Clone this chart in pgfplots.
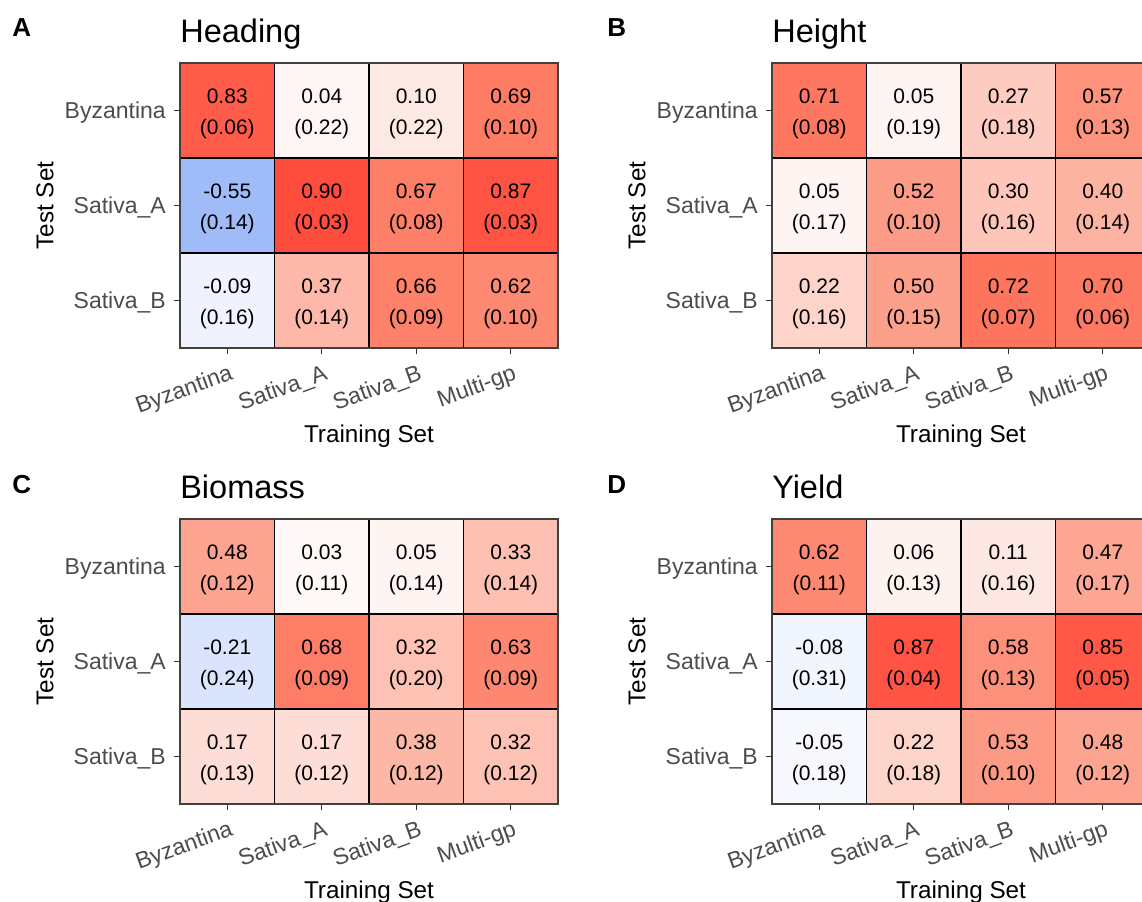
\documentclass[border=0pt]{standalone}
\usepackage{fontspec}
\setmainfont{Liberation Sans}
\usepackage{pgfplots}
\usepackage{pgfplotstable}
\pgfplotsset{compat=1.18}

\newcommand\cellfont{\fontsize{15.75}{23.25}\selectfont}
\newcommand\tickfont{\fontsize{17.25}{20}\selectfont}
\newcommand\labfont{\fontsize{18.2}{22}\selectfont}
\newcommand\titlefont{\fontsize{24.4}{28}\selectfont}
\newcommand\letfont{\fontsize{19.5}{22}\selectfont\bfseries}

% x = training set (0 Byzantina,1 Sativa_A,2 Sativa_B,3 Multi-gp)
% y = test set (2 Byzantina,1 Sativa_A,0 Sativa_B)
\pgfplotstableread{
x y v sd
0 0 -0.09 0.16
1 0 0.37 0.14
2 0 0.66 0.09
3 0 0.62 0.10
0 1 -0.55 0.14
1 1 0.90 0.03
2 1 0.67 0.08
3 1 0.87 0.03
0 2 0.83 0.06
1 2 0.04 0.22
2 2 0.10 0.22
3 2 0.69 0.10
}\heading
\pgfplotstableread{
x y v sd
0 0 0.22 0.16
1 0 0.50 0.15
2 0 0.72 0.07
3 0 0.70 0.06
0 1 0.05 0.17
1 1 0.52 0.10
2 1 0.30 0.16
3 1 0.40 0.14
0 2 0.71 0.08
1 2 0.05 0.19
2 2 0.27 0.18
3 2 0.57 0.13
}\height
\pgfplotstableread{
x y v sd
0 0 0.17 0.13
1 0 0.17 0.12
2 0 0.38 0.12
3 0 0.32 0.12
0 1 -0.21 0.24
1 1 0.68 0.09
2 1 0.32 0.20
3 1 0.63 0.09
0 2 0.48 0.12
1 2 0.03 0.11
2 2 0.05 0.14
3 2 0.33 0.14
}\biomass
\pgfplotstableread{
x y v sd
0 0 -0.05 0.18
1 0 0.22 0.18
2 0 0.53 0.10
3 0 0.48 0.12
0 1 -0.08 0.31
1 1 0.87 0.04
2 1 0.58 0.13
3 1 0.85 0.05
0 2 0.62 0.11
1 2 0.06 0.13
2 2 0.11 0.16
3 2 0.47 0.17
}\yield

\pgfplotsset{
  hm/.style={
    scale only axis, width=283.5pt, height=213.75pt,
    anchor=south west,
    xmin=-0.5, xmax=3.5, ymin=-0.5, ymax=2.5,
    axis on top,
    colormap={rb}{rgb255(0pt)=(80,130,240); rgb255(45pt)=(160,188,248); rgb255(80pt)=(221,229,253);
      rgb255(100pt)=(255,255,255); rgb255(110pt)=(253,233,228); rgb255(125pt)=(253,207,196);
      rgb255(150pt)=(252,160,140); rgb255(170pt)=(254,121,98); rgb255(190pt)=(255,77,61); rgb255(200pt)=(255,55,40)},
    point meta min=-1, point meta max=1,
    xtick={0,1,2,3}, ytick={0,1,2},
    xticklabels={Byzantina,Sativa\_A,Sativa\_B,Multi-gp},
    yticklabels={Sativa\_B,Sativa\_A,Byzantina},
    tick align=outside, tick pos=left,
    major tick length=4.5pt,
    every tick/.style={black!80, line width=1.1pt},
    minor xtick={0.5,1.5,2.5}, minor ytick={0.5,1.5},
    minor tick length=0pt,
    xminorgrids=true, yminorgrids=true,
    minor grid style={black, line width=0.9pt},
    axis line style={black!75, line width=1.1pt},
    xticklabel style={font=\tickfont, text=black!70, rotate=20, anchor=north east, inner sep=0pt, yshift=-6.75pt, xshift=-1.5pt},
    yticklabel style={font=\tickfont, text=black!70, anchor=base east, inner sep=0pt, xshift=-6pt, yshift=-6.2pt},
    xlabel={Training Set}, ylabel={Test Set},
    xlabel style={font=\labfont, at={(axis description cs:0.5,-0.3333)}, anchor=base, inner sep=0pt},
    ylabel style={font=\labfont, at={(axis description cs:-0.3571,0.5)}, anchor=center, inner sep=0pt},
    every axis title shift=0pt,
    title style={font=\titlefont, at={(axis description cs:0,1)}, anchor=base west, inner sep=0pt, yshift=15pt},
  },
  cells/.style={matrix plot*, mesh/cols=4, point meta=explicit},
  txt/.style={only marks, mark=*, mark size=0pt,
    scatter/use mapped color={draw=none, fill=none},
    point meta=explicit symbolic,
    nodes near coords align=center,
    every node near coord/.append style={anchor=base, inner sep=0pt, font=\cellfont, text=black, yshift=#1}},
  txtv/.style={txt=5.25pt, nodes near coords={\pgfplotspointmeta}},
  txts/.style={txt=-18pt, nodes near coords={(\pgfplotspointmeta)}},
}

\begin{document}
\begin{tikzpicture}
\path[use as bounding box] (0,0) rectangle (856.5pt,676.5pt);

\begin{axis}[hm, at={(135pt,415.5pt)}, title={Heading}]
\addplot[cells] table[x=x,y=y,meta=v] {\heading};
\addplot[txtv] table[x=x,y=y,meta=v] {\heading};
\addplot[txts] table[x=x,y=y,meta=sd] {\heading};
\end{axis}

\begin{axis}[hm, at={(579pt,415.5pt)}, title={Height}]
\addplot[cells] table[x=x,y=y,meta=v] {\height};
\addplot[txtv] table[x=x,y=y,meta=v] {\height};
\addplot[txts] table[x=x,y=y,meta=sd] {\height};
\end{axis}

\begin{axis}[hm, at={(135pt,73.5pt)}, title={Biomass}]
\addplot[cells] table[x=x,y=y,meta=v] {\biomass};
\addplot[txtv] table[x=x,y=y,meta=v] {\biomass};
\addplot[txts] table[x=x,y=y,meta=sd] {\biomass};
\end{axis}

\begin{axis}[hm, at={(579pt,73.5pt)}, title={Yield}]
\addplot[cells] table[x=x,y=y,meta=v] {\yield};
\addplot[txtv] table[x=x,y=y,meta=v] {\yield};
\addplot[txts] table[x=x,y=y,meta=sd] {\yield};
\end{axis}

\node[anchor=base west, inner sep=0pt, font=\letfont] at (9pt,648.75pt) {A};
\node[anchor=base west, inner sep=0pt, font=\letfont] at (455.25pt,648.75pt) {B};
\node[anchor=base west, inner sep=0pt, font=\letfont] at (9pt,306pt) {C};
\node[anchor=base west, inner sep=0pt, font=\letfont] at (455.25pt,306pt) {D};
\end{tikzpicture}
\end{document}
